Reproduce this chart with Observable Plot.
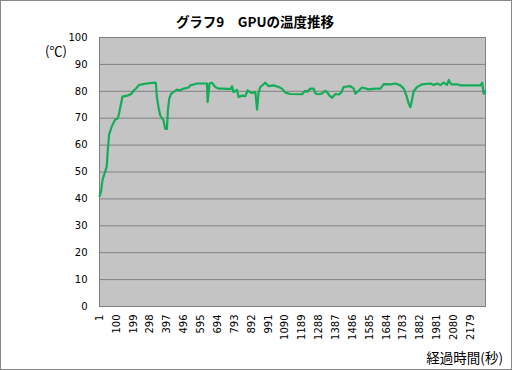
<!DOCTYPE html>
<html>
<head>
<meta charset="utf-8">
<script src="https://cdn.jsdelivr.net/npm/d3@7"></script>
<script src="https://cdn.jsdelivr.net/npm/@observablehq/plot@0.6"></script>
<style>
  html, body { margin: 0; padding: 0; background: #fff; }
  #wrap { position: relative; width: 512px; height: 370px; overflow: hidden; }
  #wrap svg { position: absolute; left: 0; top: 0; }
  #border { position: absolute; left: 0; top: 0; width: 512px; height: 370px; box-sizing: border-box; border: 1px solid #888; pointer-events: none; }
  .lbl { position: absolute; font-family: "Noto Sans CJK JP", "DejaVu Sans", sans-serif; color: #000; white-space: nowrap; line-height: 1; }
  #title { left: 0; width: 510px; text-align: center; top: 15px; font-size: 13.5px; font-weight: bold; }
  #unit { left: 45px; top: 44px; font-size: 13px; }
  #xlab { right: 9px; top: 351px; font-size: 13.5px; }
</style>
</head>
<body>
<div id="wrap">
  <div id="border"></div>
  <div class="lbl" id="title">グラフ9　GPUの温度推移</div>
  <div class="lbl" id="unit">(℃)</div>
  <div class="lbl" id="xlab">経過時間(秒)</div>
</div>
<script>
// elapsed time (s) and GPU temperature (°C)
const seconds = [1, 10, 18, 33, 43, 49, 57, 73, 92, 108, 116, 127, 135, 170, 186, 200, 220, 229, 249, 288, 327, 331, 337, 347, 357, 376, 386, 396, 402, 410, 421, 435, 455, 474, 494, 523, 533, 558, 572, 631, 635, 646, 660, 680, 699, 729, 768, 778, 787, 807, 817, 837, 856, 870, 881, 895, 915, 925, 934, 944, 963, 973, 993, 1022, 1052, 1071, 1091, 1120, 1189, 1208, 1218, 1238, 1257, 1267, 1286, 1306, 1326, 1336, 1349, 1365, 1385, 1404, 1420, 1433, 1473, 1492, 1502, 1521, 1541, 1580, 1619, 1649, 1668, 1708, 1737, 1766, 1786, 1801, 1815, 1825, 1835, 1844, 1864, 1894, 1942, 1962, 1982, 2001, 2020, 2040, 2050, 2064, 2099, 2119, 2158, 2197, 2236, 2246, 2255, 2263];
const temps = [41, 43, 47, 50, 52, 58, 64, 67, 69.4, 70, 72, 75.4, 78, 78.5, 79, 80.2, 81.4, 82.2, 82.6, 83, 83.2, 83, 78, 74, 71, 69.2, 66.1, 66, 73, 77.3, 79.1, 79.7, 80.6, 80.4, 81, 81.4, 82.2, 82.6, 82.9, 82.9, 76, 82.9, 83.2, 81.6, 81, 81, 80.8, 81.9, 79.7, 80.5, 77.9, 78.4, 78.2, 80.4, 79.8, 79.4, 79.7, 73.2, 79.5, 81.6, 82.6, 83.2, 81.9, 82.2, 81.6, 81, 79.5, 79, 78.9, 80.2, 79.8, 81, 81, 79.2, 78.9, 79.2, 80.2, 79.8, 78.5, 77.6, 79, 78.8, 79.6, 81.6, 81.9, 81, 79.1, 80.2, 81.4, 80.7, 81, 81, 82.7, 82.6, 82.9, 82.2, 81, 78.5, 75.4, 74.1, 77, 80, 81.6, 82.6, 82.9, 82.3, 82.9, 82.3, 83.2, 82.4, 84.2, 82.6, 82.6, 82.2, 82.2, 82.2, 82.2, 83.2, 79.1, 80];
const xTicks = [1, 100, 199, 298, 397, 496, 595, 694, 793, 892, 991, 1090, 1189, 1288, 1387, 1486, 1585, 1684, 1783, 1882, 1981, 2080, 2179];
const yTicks = [0, 10, 20, 30, 40, 50, 60, 70, 80, 90, 100];
const sampleCount = 2265;

const data = seconds.map((s, i) => ({sec: s, temp: temps[i]}));

const chart = Plot.plot({
  width: 512,
  height: 370,
  marginTop: 37,
  marginBottom: 64,
  marginLeft: 99,
  marginRight: 27,
  style: {fontFamily: "DejaVu Sans, sans-serif", fontSize: "10px", color: "#000", background: "transparent"},
  x: {domain: [0.5, sampleCount + 0.5], ticks: xTicks, tickFormat: d => String(d), label: null},
  y: {domain: [0, 100], ticks: yTicks, label: null},
  marks: [
    Plot.frame({fill: "#c4c4c4", stroke: null}),
    Plot.ruleY(yTicks, {stroke: "#808080", strokeWidth: 1}),
    Plot.frame({stroke: "#808080", strokeWidth: 1}),
    Plot.line(data, {x: "sec", y: "temp", stroke: "#12ad57", strokeWidth: 2.2, strokeLinejoin: "round"}),
    Plot.axisY({ticks: yTicks, tickSize: 0, tickPadding: 12, fontSize: 10, label: null}),
    Plot.axisX({ticks: xTicks, tickSize: 0, tickPadding: 8, tickRotate: -90, fontSize: 10, label: null, tickFormat: d => String(d)})
  ]
});
document.getElementById("wrap").insertBefore(chart, document.getElementById("border"));
</script>
</body>
</html>
